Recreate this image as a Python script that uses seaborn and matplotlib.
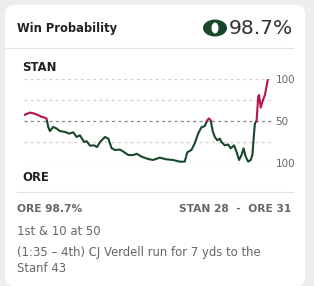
import matplotlib
matplotlib.use("Agg")
import matplotlib.pyplot as plt
from matplotlib.patches import FancyBboxPatch, Ellipse
import pandas as pd
import seaborn as sns

# game minute (0-60) and Stanford win probability (%)
minutes = [0.0, 1.4, 2.4, 3.4, 4.2, 5.0, 5.4, 5.8, 6.2, 7.0, 7.8, 8.6, 9.8, 10.8,
           11.8, 12.6, 13.4, 14.4, 15.0, 15.8, 16.8, 17.5, 18.2, 19.4, 20.2, 21.0,
           21.8, 23.0, 23.8, 25.0, 26.2, 27.0, 28.2, 29.7, 30.9, 32.5, 34.1, 35.7,
           37.3, 38.5, 39.1, 40.1, 40.9, 41.7, 42.5, 43.3, 43.9, 44.3, 44.7, 45.2,
           45.7, 46.3, 46.9, 47.3, 48.1, 48.9, 49.5, 50.3, 50.9, 51.5, 52.1, 52.6,
           53.1, 53.7, 54.3, 54.7, 55.0, 55.3, 55.7, 56.1, 56.3, 56.7, 57.1, 57.7,
           58.4]
stan_wp = [57, 60, 59, 57, 55, 54, 53, 43, 38, 43, 41, 38, 37, 35,
           36.5, 31, 33, 25, 26, 20.6, 21, 19, 25, 31, 29, 17.5,
           15.5, 16, 13.5, 9.5, 9.5, 11, 7.5, 4.8, 3.6, 6.3, 4.4, 3.6,
           1.6, 1.6, 12.7, 15.5, 23.4, 35, 42.5, 44, 51, 53, 51, 38,
           31, 27, 29, 25, 21, 22, 17.5, 21, 13.5, 3.6, 9.5, 17.5,
           7.5, 1.6, 3.6, 9.5, 29, 47, 50, 79, 81, 66, 73, 81,
           99]
ytick_vals = [0, 50, 100]
ytick_labels = ["100", "50", "100"]

STAN_RED = "#b5154b"
ORE_GREEN = "#17482b"
W, H = 314, 286


def fx(px):
    return px / W


def fy(py):
    return 1 - py / H


# split the line into red (Stanford ahead) and green (Oregon ahead) runs
pieces = []
for i in range(len(minutes) - 1):
    x0, y0, x1, y1 = minutes[i], stan_wp[i], minutes[i + 1], stan_wp[i + 1]
    if (y0 - 50) * (y1 - 50) < 0:
        xc = x0 + (50 - y0) / (y1 - y0) * (x1 - x0)
        pieces.append(([x0, xc], [y0, 50]))
        pieces.append(([xc, x1], [50, y1]))
    else:
        pieces.append(([x0, x1], [y0, y1]))

runs = []
for xs, ys in pieces:
    col = STAN_RED if (ys[0] + ys[1]) / 2 > 50 else ORE_GREEN
    if runs and runs[-1][2] == col:
        runs[-1][0].append(xs[1])
        runs[-1][1].append(ys[1])
    else:
        runs.append([list(xs), list(ys), col])

sns.set_theme(style="white")
plt.rcParams["font.family"] = ["DejaVu Sans"]

fig = plt.figure(figsize=(W / 100, H / 100), dpi=100)
fig.patch.set_facecolor("#ededf0")

card = FancyBboxPatch((fx(5), 0), fx(300), fy(5), boxstyle="round,pad=0,rounding_size=0.03",
                      transform=fig.transFigure, facecolor="white", edgecolor="none", zorder=-5)
fig.patches.append(card)

ax = fig.add_axes([fx(24), fy(163), fx(248), 84 / H])
ax.set_facecolor("none")
for y in [0, 25, 75, 100]:
    ax.axhline(y, color="#cfcfcf", lw=0.9, ls=(0, (2.2, 2.8)), zorder=1)
ax.axhline(50, color="#8a8a8a", lw=0.9, ls=(0, (2.5, 2.5)), zorder=1)

for xs, ys, col in runs:
    df = pd.DataFrame({"minute": xs, "wp": ys})
    sns.lineplot(data=df, x="minute", y="wp", color=col, lw=1.5, sort=False,
                 estimator=None, ax=ax, zorder=3)

ax.set_xlim(0, 59.4)
ax.set_ylim(0, 100)
ax.set_xticks([])
ax.yaxis.tick_right()
ax.set_yticks(ytick_vals)
ax.set_yticklabels(ytick_labels, color="#666666", fontsize=7.5)
ax.tick_params(axis="y", length=0, pad=2.5)
ax.set_xlabel("")
ax.set_ylabel("")
sns.despine(ax=ax, left=True, bottom=True, right=True, top=True)

# header
fig.text(fx(17), fy(32), "Win Probability", fontsize=8.3, fontweight="bold", color="#222222")
fig.patches.append(Ellipse((fx(215), fy(28)), fx(24), 17 / H, transform=fig.transFigure,
                           facecolor=ORE_GREEN, edgecolor="none"))
fig.patches.append(Ellipse((fx(215), fy(28)), fx(7), 11 / H, transform=fig.transFigure,
                           facecolor="white", edgecolor="none"))
fig.text(fx(293), fy(34), "98.7%", fontsize=14.6, color="#333333", ha="right")
fig.add_artist(plt.Line2D([fx(5), fx(293)], [fy(48), fy(48)], color="#e3e3e3", lw=0.8))

# team labels
fig.text(fx(22), fy(71), "STAN", fontsize=8.4, fontweight="bold", color="#222222")
fig.text(fx(22), fy(181), "ORE", fontsize=8.4, fontweight="bold", color="#222222")
fig.add_artist(plt.Line2D([fx(17), fx(293)], [fy(192), fy(192)], color="#e3e3e3", lw=0.8))

# footer
fig.text(fx(17), fy(211.7), "ORE 98.7%", fontsize=7.7, fontweight="bold", color="#666666")
fig.text(fx(291.7), fy(211.7), "STAN 28  -  ORE 31", fontsize=7.7, fontweight="bold",
         color="#666666", ha="right")
fig.text(fx(17), fy(235), "1st & 10 at 50", fontsize=8.4, color="#666666")
fig.text(fx(17), fy(256.3), "(1:35 \u2013 4th) CJ Verdell run for 7 yds to the",
         fontsize=8.4, color="#666666")
fig.text(fx(17), fy(271.7), "Stanf 43", fontsize=8.4, color="#666666")

fig.savefig("out.png", dpi=100, facecolor=fig.get_facecolor())
